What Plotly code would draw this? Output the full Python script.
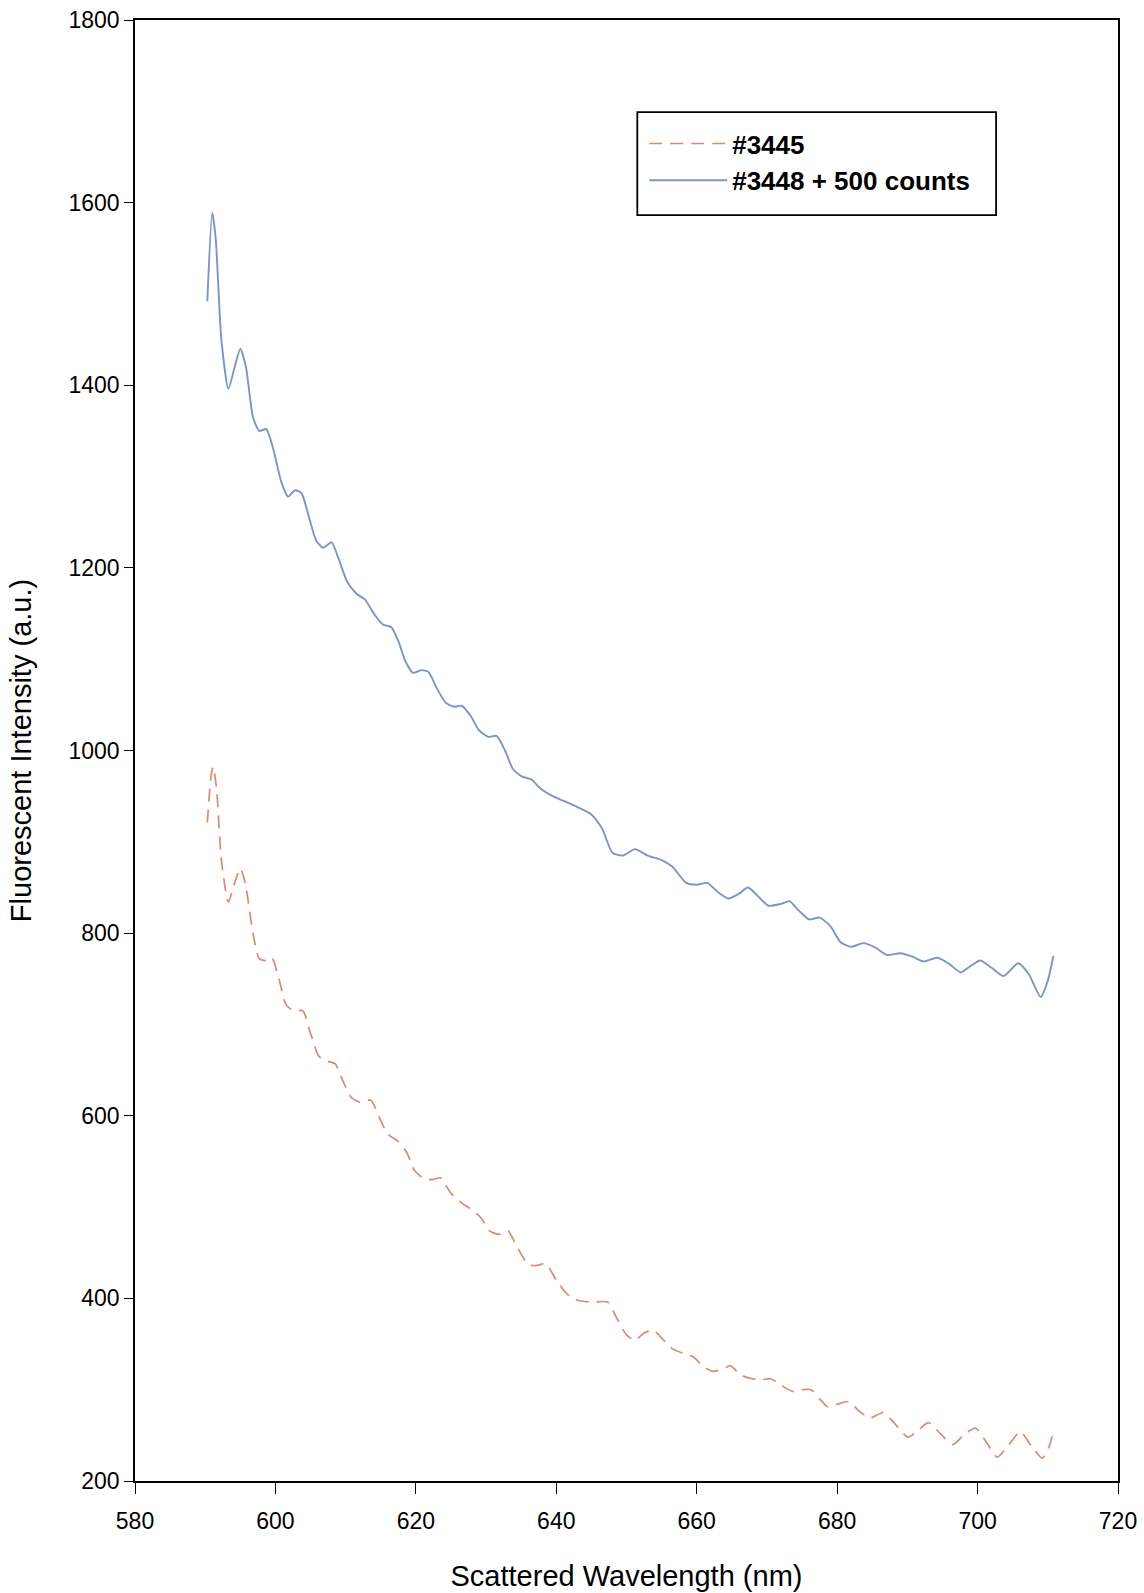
import plotly.graph_objects as go

blue_x = [590.3, 591.0, 591.5, 592.3, 593.3, 594.2, 595.0, 595.8, 596.8, 597.7, 598.7, 599.7,
          600.8, 601.8, 602.8, 603.7, 604.8, 605.8, 606.8, 608.0, 609.0, 610.2, 611.5, 612.8,
          614.0, 615.3, 616.5, 617.5, 618.5, 619.6, 620.8, 621.8, 623.0, 624.3, 625.5, 626.5,
          627.8, 629.0, 630.3, 631.5, 632.7, 633.8, 635.0, 636.5, 637.8, 639.5, 641.0, 643.0,
          645.0, 646.5, 648.0, 649.5, 651.2, 653.0, 655.0, 656.5, 658.5, 660.0, 661.5, 663.0,
          664.5, 666.0, 667.3, 668.8, 670.2, 672.0, 673.2, 674.5, 676.0, 677.5, 679.0, 680.5,
          682.0, 683.7, 685.5, 687.1, 689.0, 690.8, 692.3, 694.3, 696.0, 697.6, 699.0, 700.4,
          702.0, 703.7, 705.8, 707.3, 709.0, 710.0, 710.8]
blue_y = [1492, 1589, 1560, 1450, 1396, 1420, 1440, 1420, 1365, 1350, 1352, 1330,
          1295, 1278, 1285, 1282, 1255, 1230, 1222, 1228, 1210, 1185, 1172, 1165,
          1150, 1138, 1135, 1120, 1098, 1085, 1088, 1086, 1068, 1052, 1048, 1049,
          1038, 1022, 1015, 1016, 1000, 980, 972, 968, 958, 950, 945, 938,
          930, 915, 888, 885, 892, 885, 880, 873, 855, 853, 855, 845,
          838, 843, 850, 840, 830, 832, 835, 825, 815, 817, 808, 790,
          785, 789, 784, 776, 778, 774, 769, 773, 766, 757, 764, 770,
          762, 753, 767, 755, 730, 748, 775]

red_x = [590.3, 590.8, 591.1, 591.6, 592.3, 593.3, 594.2, 595.0, 595.7, 596.8, 597.7, 598.7,
         599.5, 600.5, 601.5, 602.5, 603.9, 605.0, 606.2, 607.3, 608.5, 609.5, 610.8, 612.0,
         613.6, 614.8, 616.0, 617.5, 618.7, 619.8, 621.0, 622.3, 623.5, 625.0, 626.6, 628.0,
         629.3, 630.5, 631.8, 633.1, 634.5, 636.0, 637.2, 638.5, 640.0, 641.5, 643.0, 645.0,
         647.3, 648.5, 650.0, 651.2, 652.5, 653.8, 655.2, 656.5, 658.0, 659.5, 661.0, 662.3,
         663.5, 664.8, 666.3, 667.9, 669.3, 670.5, 672.0, 673.7, 675.0, 676.3, 677.5, 678.7,
         680.0, 681.6, 683.2, 684.7, 686.6, 688.3, 690.1, 691.6, 693.0, 694.8, 696.5, 698.0,
         699.7, 701.3, 702.8, 704.5, 706.1, 707.7, 709.2, 710.2, 710.8]
red_y = [921, 970, 982, 960, 880, 834, 855, 871, 855, 800, 772, 770,
         773, 750, 722, 715, 715, 690, 665, 660, 657, 640, 620, 615,
         617, 598, 580, 572, 560, 540, 532, 530, 532, 515, 504, 497,
         488, 474, 470, 474, 455, 437, 436, 438, 420, 405, 398, 396,
         396, 380, 360, 354, 362, 365, 355, 345, 340, 336, 325, 320,
         322, 326, 316, 312, 311, 312, 305, 298, 300, 300, 290, 281,
         284, 287, 276, 269, 275, 262, 248, 256, 264, 251, 240, 250,
         258, 242, 226, 240, 254, 238, 225, 238, 254]

x_ticks = [580, 600, 620, 640, 660, 680, 700, 720]
y_ticks = [200, 400, 600, 800, 1000, 1200, 1400, 1600, 1800]

FONT = "Liberation Sans, Arial, sans-serif"

fig = go.Figure()
fig.add_trace(go.Scatter(
    x=red_x, y=red_y, mode="lines", name="#3445",
    line=dict(color="#d98a70", width=1.7, dash="13px,8px", shape="spline", smoothing=0.6),
))
fig.add_trace(go.Scatter(
    x=blue_x, y=blue_y, mode="lines", name="#3448 + 500 counts",
    line=dict(color="#7c95c6", width=1.9, shape="spline", smoothing=0.6),
))

fig.update_layout(
    width=1144, height=1593,
    margin=dict(l=135, r=26, t=20, b=112, autoexpand=False),
    paper_bgcolor="white", plot_bgcolor="white",
    font=dict(family=FONT, color="black"),
    showlegend=True,
    legend=dict(
        x=0.518, y=0.9315, xanchor="left", yanchor="top",
        bgcolor="rgba(0,0,0,0)", borderwidth=0,
        font=dict(family=FONT, size=26, color="black", weight="bold"),
        tracegroupgap=0, itemwidth=78,
    ),
    shapes=[dict(
        type="rect", xref="paper", yref="paper",
        x0=0.511, x1=0.876, y0=0.8665, y1=0.937,
        line=dict(color="black", width=1.8), fillcolor="rgba(0,0,0,0)", layer="below",
    )],
    xaxis=dict(
        range=[580, 720], tickvals=x_ticks, ticktext=[str(v) for v in x_ticks],
        showgrid=False, zeroline=False, automargin=False,
        showline=True, linecolor="black", linewidth=1.6, mirror=True,
        ticks="outside", ticklen=11, tickwidth=1.4, tickcolor="black",
        ticklabelstandoff=8,
        tickfont=dict(size=23, family=FONT),
        title=dict(text="Scattered Wavelength (nm)", font=dict(size=29, family=FONT), standoff=32),
    ),
    yaxis=dict(
        range=[200, 1800], tickvals=y_ticks, ticktext=[str(v) for v in y_ticks],
        showgrid=False, zeroline=False, automargin=False,
        showline=True, linecolor="black", linewidth=1.6, mirror=True,
        ticks="outside", ticklen=9, tickwidth=1.4, tickcolor="black",
        tickfont=dict(size=23, family=FONT),
        title=dict(text="Fluorescent Intensity (a.u.)", font=dict(size=29, family=FONT), standoff=28),
    ),
)

fig.write_html("out.html")
